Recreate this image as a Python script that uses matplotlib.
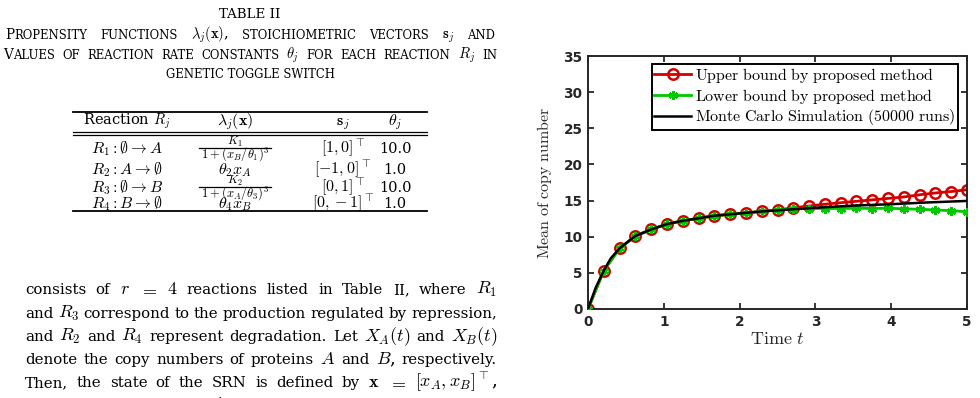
#Table II page snippet plus mean copy number bounds (toggle switch)

import matplotlib
matplotlib.use('Agg')
import matplotlib.pyplot as plt
from matplotlib.lines import Line2D

plt.rcParams['mathtext.fontset'] = 'cm'
plt.rcParams['font.family'] = 'DejaVu Serif'

W, H = 980, 398

#TABLE DATA
caption_title = 'TABLE II'
caption_lines = [r'P|ROPENSITY FUNCTIONS $\lambda_j(\mathbf{x})$, STOICHIOMETRIC VECTORS $\mathbf{s}_j$ AND',
                 r'V|ALUES OF REACTION RATE CONSTANTS $\theta_j$ FOR EACH REACTION $R_j$ IN',
                 'GENETIC TOGGLE SWITCH']
table_header = [r'Reaction $R_j$', r'$\lambda_j(\mathbf{x})$', r'$\mathbf{s}_j$', r'$\theta_j$']
reactions = [r'$R_1:\emptyset\rightarrow A$', r'$R_2:A\rightarrow\emptyset$',
             r'$R_3:\emptyset\rightarrow B$', r'$R_4:B\rightarrow\emptyset$']
#fractions are (numerator, denominator), the others are plain
propensities = [(r'$K_1$', r'$1+(x_B/\theta_1)^3$'), r'$\theta_2 x_A$',
                (r'$K_2$', r'$1+(x_A/\theta_3)^3$'), r'$\theta_4 x_B$']
stoich = [r'$[1,0]^\top$', r'$[-1,0]^\top$', r'$[0,1]^\top$', r'$[0,-1]^\top$']
rates = ['10.0', '1.0', '10.0', '1.0']

#PARAGRAPH
paragraph = [r'consists of $r$ $=$ $4$ reactions listed in Table II, where $R_1$',
             r'and $R_3$ correspond to the production regulated by repression,',
             r'and $R_2$ and $R_4$ represent degradation. Let $X_A(t)$ and $X_B(t)$',
             r'denote the copy numbers of proteins $A$ and $B$, respectively.',
             r'Then, the state of the SRN is defined by $\mathbf{x}$ $=$ $[x_A,x_B]^\top$,',
             r'and for each state label $i$, $\mathbf{x}_i$ denote the corresponding state']

#CHART DATA
t = [0, 0.208, 0.417, 0.625, 0.833, 1.042, 1.25, 1.458, 1.667, 1.875, 2.083, 2.292, 2.5,
     2.708, 2.917, 3.125, 3.333, 3.542, 3.75, 3.958, 4.167, 4.375, 4.583, 4.792, 5.0]
upper = [0, 5.3, 8.4, 10.1, 11.0, 11.75, 12.2, 12.55, 12.9, 13.1, 13.3, 13.5, 13.7,
         14.0, 14.25, 14.5, 14.7, 14.9, 15.1, 15.3, 15.5, 15.8, 16.05, 16.25, 16.5]
lower = [0, 5.3, 8.4, 10.1, 11.0, 11.75, 12.2, 12.55, 12.9, 13.1, 13.3, 13.5, 13.7,
         13.85, 13.9, 13.9, 13.9, 13.95, 13.9, 13.95, 13.85, 13.8, 13.7, 13.6, 13.45]
t_mc = [0, 0.1, 0.208, 0.3, 0.417, 0.625, 0.833, 1.042, 1.25, 1.458, 1.667, 1.875, 2.083,
        2.292, 2.5, 3.0, 3.5, 4.0, 4.5, 5.0]
monte_carlo = [0, 2.9, 5.3, 7.0, 8.4, 10.1, 11.0, 11.75, 12.2, 12.55, 12.9, 13.1, 13.3,
               13.5, 13.65, 14.0, 14.3, 14.5, 14.75, 14.95]

fig = plt.figure(figsize=(W / 100, H / 100), dpi=100)
renderer = fig.canvas.get_renderer()

def fx(x):
	return x / W

def fy(y):
	return 1 - y / H

def justify(line, x0, x1, y, size, big=None, msize=None):
	#words are spread over the width; a '|' inside a word splits off a bigger first part
	#words with math in them get their own size since cm math looks smaller
	words = line.split(' ')
	groups = []
	for w in words:
		if '|' in w:
			a, b = w.split('|')
			parts = [fig.text(0, fy(y), a, fontsize=big, va='baseline'),
			         fig.text(0, fy(y), b, fontsize=size, va='baseline')]
		else:
			s = msize if ('$' in w and msize) else size
			parts = [fig.text(0, fy(y), w, fontsize=s, va='baseline')]
		groups.append(parts)
	widths = [[p.get_window_extent(renderer).width for p in g] for g in groups]
	total = sum(sum(wl) for wl in widths)
	gap = (x1 - x0 - total) / max(len(groups) - 1, 1)
	x = x0
	for g, wl in zip(groups, widths):
		for p, w in zip(g, wl):
			p.set_x(fx(x))
			x += w
		x += gap

#caption
fig.text(fx(250), fy(18), caption_title, fontsize=9.6, ha='center', va='baseline')
justify(caption_lines[0], 5, 495, 39, 8.4, big=9.8, msize=10.5)
justify(caption_lines[1], 3, 497, 59, 8.4, big=9.8, msize=10.5)
fig.text(fx(250), fy(78), caption_lines[2], fontsize=8.4, ha='center', va='baseline')

#table
col_x = [127, 235, 343, 395]
rule_x = [fx(73), fx(427)]
for yy, lw in [(112, 1.3), (131.5, 0.9), (134.5, 0.9), (211, 1.3)]:
	fig.add_artist(Line2D(rule_x, [fy(yy), fy(yy)], color='black', lw=lw))
fig.text(fx(col_x[0]), fy(125), table_header[0], fontsize=10.5, ha='center', va='baseline')
for c in range(1, 4):
	fig.text(fx(col_x[c]), fy(125), table_header[c], fontsize=11.5, ha='center', va='baseline')
row_y = [153, 174, 192, 208]
for r in range(4):
	yb = row_y[r]
	fig.text(fx(col_x[0]), fy(yb), reactions[r], fontsize=11.5, ha='center', va='baseline')
	prop = propensities[r]
	if isinstance(prop, tuple):
		bar = yb - 5
		fig.text(fx(col_x[1]), fy(bar - 3.5), prop[0], fontsize=8.5, ha='center', va='baseline')
		den = fig.text(fx(col_x[1]), fy(bar + 9.5), prop[1], fontsize=9, ha='center', va='baseline')
		half = den.get_window_extent(renderer).width / 2 + 2
		fig.add_artist(Line2D([fx(col_x[1] - half), fx(col_x[1] + half)], [fy(bar), fy(bar)],
		                      color='black', lw=0.9))
	else:
		fig.text(fx(col_x[1]), fy(yb), prop, fontsize=11.5, ha='center', va='baseline')
	fig.text(fx(col_x[2]), fy(yb), stoich[r], fontsize=11.5, ha='center', va='baseline')
	fig.text(fx(col_x[3]), fy(yb), rates[r], fontsize=10.5, ha='center', va='baseline')

#paragraph, last line gets cut off by the page bottom
para_y = [294, 318, 341, 364, 387, 409]
for line, yy in zip(paragraph, para_y):
	justify(line, 25, 497, yy, 10.8, msize=13)

#setting up plot
ax = fig.add_axes([fx(588), fy(309), (967 - 588) / W, (309 - 56) / H])
ax.plot(t, upper, color='#d40000', lw=2, marker='o', markersize=7.5, mfc='none',
        mew=1.8, label='Upper bound by proposed method', zorder=2)
ax.plot(t, lower, color='#00c800', lw=2, marker=(6, 2, 0), markersize=6.5,
        mew=1.6, label='Lower bound by proposed method', zorder=3)
ax.plot(t_mc, monte_carlo, color='black', lw=1.8,
        label='Monte Carlo Simulation (50000 runs)', zorder=4)

ax.set_xlim(0, 5)
ax.set_ylim(0, 35)
ax.set_xticks([0, 1, 2, 3, 4, 5])
ax.set_yticks([0, 5, 10, 15, 20, 25, 30, 35])
ax.tick_params(direction='in', length=4, width=1.3, top=True, right=True, pad=4, colors='#262626')
for lab in ax.get_xticklabels() + ax.get_yticklabels():
	lab.set_fontfamily('DejaVu Sans')
	lab.set_fontweight('bold')
	lab.set_fontsize(9.8)
for sp in ax.spines.values():
	sp.set_linewidth(1.4)
	sp.set_color('#262626')

ax.set_xlabel(r'$\mathrm{Time}\ t$', fontsize=13, labelpad=1, color='#262626')
ax.set_ylabel(r'$\mathrm{Mean\ of\ copy\ number}$', fontsize=11.5, labelpad=7, color='#262626')

leg = ax.legend(loc='upper right', bbox_to_anchor=(0.975, 0.97), prop={'size': 11.5},
                fancybox=False, framealpha=1, edgecolor='black', handlelength=2.3,
                borderpad=0.15, labelspacing=0.1, handletextpad=0.25, borderaxespad=0)
leg.get_frame().set_linewidth(1.4)
for txt in leg.get_texts():
	txt.set_text('$\\mathrm{' + txt.get_text().replace(' ', '\\ ') + '}$')

fig.savefig('out.png', dpi=100)
